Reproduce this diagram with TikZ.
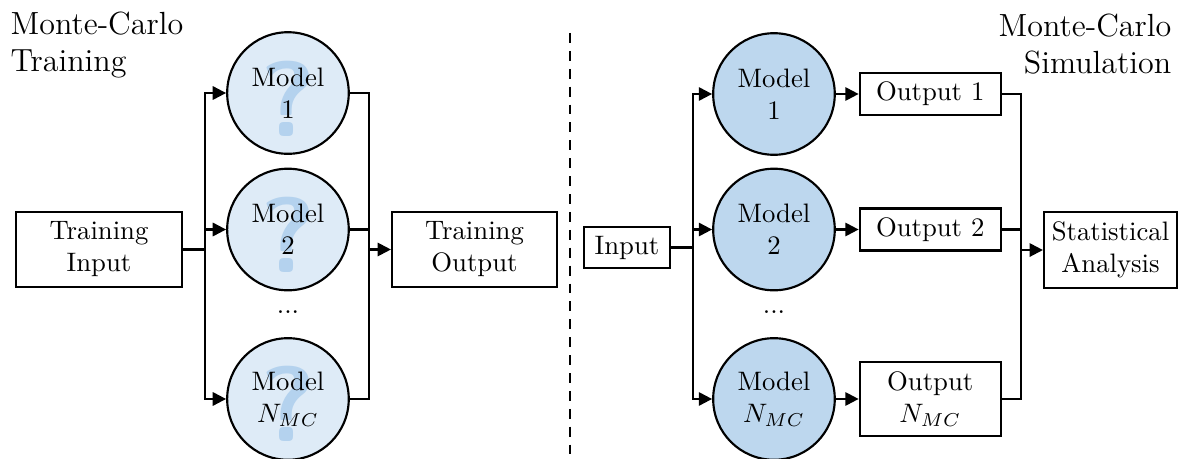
\documentclass[tikz,border=0pt]{standalone}
\usepackage{amsmath}
\usepackage{tikz}
\usetikzlibrary{arrows.meta,positioning}
\definecolor{modelfill}{HTML}{BDD7EE}
\definecolor{trainfill}{HTML}{DEEBF7}
\definecolor{qmark}{HTML}{B4D2EE}

\begin{document}
\begin{tikzpicture}[
  box/.style={draw, line width=0.8pt, align=center, inner sep=2pt},
  model/.style={circle, draw, line width=0.8pt, minimum size=1.6cm, inner sep=0pt, align=center, fill=modelfill},
  unsure/.style={model, fill=trainfill,
    path picture={\node[text=qmark, font=\fontsize{40}{40}\selectfont\sffamily\bfseries]
      at ([yshift=-2pt]path picture bounding box.center) {?};}},
  title/.style={font=\large, inner sep=0pt},
  link/.style={line width=0.8pt},
  arr/.style={-{Triangle[length=5pt,width=5pt]}, line width=0.8pt}
]
  \useasboundingbox (0,0) rectangle (15.553,-6.039);

  % training with uncertain models
  \node[title, anchor=north west, align=left] (titleL) at (0.132,-0.145) {Monte-Carlo\\Training};
  \node[box, minimum width=2.18cm, minimum height=0.99cm] (tin) at (1.303,-3.283) {Training\\Input};
  \node[unsure] (m1L) at (3.789,-1.224) {Model\\1};
  \node[unsure] (m2L) at (3.789,-3.02) {Model\\2};
  \node (dotsL) at (3.789,-4.1) {...};
  \node[unsure] (mnL) at (3.789,-5.25) {Model\\$N_{MC}$};
  \node[box, minimum width=2.17cm, minimum height=0.99cm] (tout) at (6.243,-3.283) {Training\\Output};

  \coordinate (lsplit) at ([xshift=0.29cm]tin.east);
  \coordinate (ljoin) at ([xshift=-0.29cm]tout.west);
  \draw[link] (tin) -- (lsplit);
  \draw[arr] (lsplit) |- (m1L);
  \draw[arr] (lsplit) |- (m2L);
  \draw[arr] (lsplit) |- (mnL);
  \draw[link] (m1L) -| (ljoin);
  \draw[link] (m2L) -| (ljoin);
  \draw[link] (mnL) -| (ljoin);
  \draw[arr] (ljoin) -- (tout);

  % divider
  \draw[dashed, dash pattern=on 3.7pt off 3pt, line width=1.1pt] (7.5,-0.434) -- (7.5,-6.039);

  % simulation with sampled models
  \node[title, anchor=north east, align=right] (titleR) at (15.418,-0.17) {Monte-Carlo\\Simulation};
  \node[box, minimum width=1.13cm, minimum height=0.54cm] (in) at (8.25,-3.257) {Input};
  \node[model] (m1R) at (10.184,-1.237) {Model\\1};
  \node[model] (m2R) at (10.184,-3.02) {Model\\2};
  \node (dotsR) at (10.184,-4.1) {...};
  \node[model] (mnR) at (10.184,-5.25) {Model\\$N_{MC}$};
  \node[box, minimum width=1.855cm, minimum height=0.553cm, right=0.3cm of m1R] (o1) {Output 1};
  \node[box, minimum width=1.855cm, minimum height=0.553cm, right=0.3cm of m2R] (o2) {Output 2};
  \node[box, minimum width=1.855cm, minimum height=0.974cm, right=0.3cm of mnR] (on) {Output\\$N_{MC}$};
  \node[box, minimum width=1.75cm, minimum height=0.99cm] (stat) at (14.612,-3.29) {Statistical\\Analysis};

  \coordinate (rsplit) at ([xshift=0.29cm]in.east);
  \coordinate (rjoin) at ([xshift=-0.29cm]stat.west);
  \draw[link] (in) -- (rsplit);
  \draw[arr] (rsplit) |- (m1R);
  \draw[arr] (rsplit) |- (m2R);
  \draw[arr] (rsplit) |- (mnR);
  \draw[arr] (m1R) -- (o1);
  \draw[arr] (m2R) -- (o2);
  \draw[arr] (mnR) -- (on);
  \draw[link] (o1) -| (rjoin);
  \draw[link] (o2) -| (rjoin);
  \draw[link] (on) -| (rjoin);
  \draw[arr] (rjoin) -- (stat);
\end{tikzpicture}
\end{document}
